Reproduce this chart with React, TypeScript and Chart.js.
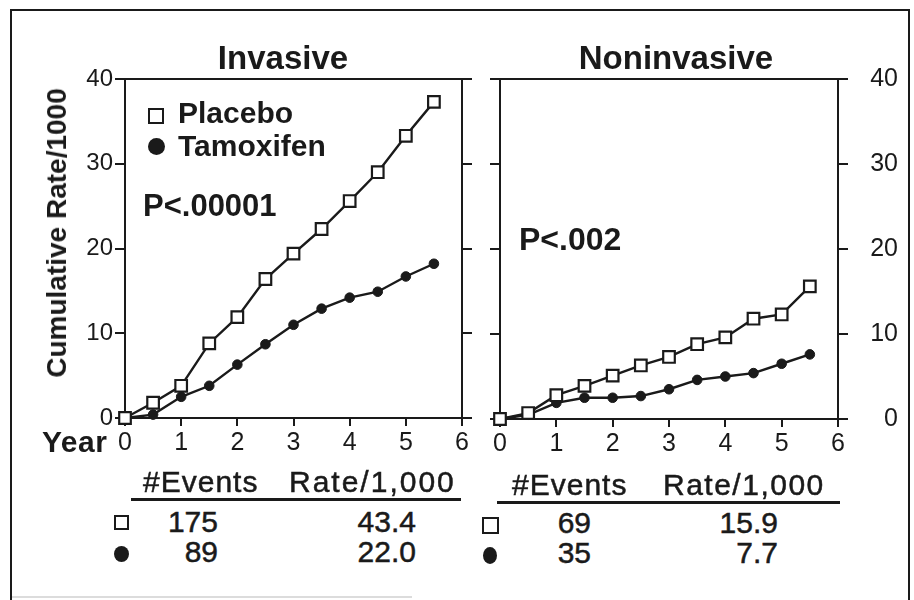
import React, { useEffect, useRef } from "react";
import { Chart, registerables } from "chart.js";

Chart.register(...registerables);

// ---------- data ----------
const years = [0, 0.5, 1, 1.5, 2, 2.5, 3, 3.5, 4, 4.5, 5, 5.5];
const invasivePlacebo = [0, 1.8, 3.8, 8.8, 11.9, 16.4, 19.4, 22.3, 25.6, 29.0, 33.3, 37.3];
const invasiveTamoxifen = [0, 0.4, 2.5, 3.8, 6.3, 8.7, 11.0, 12.9, 14.2, 14.9, 16.7, 18.2];
const noninvasivePlacebo = [0, 0.7, 2.8, 3.9, 5.1, 6.3, 7.3, 8.8, 9.6, 11.8, 12.3, 15.6];
const noninvasiveTamoxifen = [0, 0.5, 1.9, 2.5, 2.5, 2.7, 3.5, 4.6, 5.0, 5.4, 6.5, 7.6];
const xTickValues = [0, 1, 2, 3, 4, 5, 6];
const yTickValues = [0, 10, 20, 30, 40];

const panelTitles = ["Invasive", "Noninvasive"];
const seriesNames = ["Placebo", "Tamoxifen"];
const pValues = ["P<.00001", "P<.002"];
const yAxisTitle = "Cumulative Rate/1000";
const xAxisTitle = "Year";
const tableHeaders = ["#Events", "Rate/1,000"];
const invasiveEvents = ["175", "89"];
const invasiveRates = ["43.4", "22.0"];
const noninvasiveEvents = ["69", "35"];
const noninvasiveRates = ["15.9", "7.7"];

// ---------- styles ----------
const INK = "#1a1a1a";
const FONT = "'Liberation Sans', Arial, Helvetica, sans-serif";

type Side = "left" | "right";

function makeConfig(placebo: number[], tamoxifen: number[], side: Side, geo: any): any {
  const axisBorder = { display: true, color: INK, width: 2 };
  const tickGrid = (len: number) => ({
    display: true,
    drawOnChartArea: false,
    drawTicks: true,
    tickLength: len,
    color: INK,
    lineWidth: 2,
  });
  const forceY = (s: any) => {
    s.ticks = yTickValues.map((v) => ({ value: v }));
  };
  const forceX = (s: any) => {
    s.ticks = xTickValues.map((v) => ({ value: v }));
  };
  return {
    type: "line",
    data: {
      datasets: [
        {
          label: seriesNames[0],
          data: years.map((x, i) => ({ x, y: placebo[i] })),
          borderColor: INK,
          borderWidth: 2.4,
          pointStyle: "rect",
          pointRadius: 8.2,
          pointBackgroundColor: "#ffffff",
          pointBorderColor: INK,
          pointBorderWidth: 2.2,
          tension: 0,
          fill: false,
          clip: false,
        },
        {
          label: seriesNames[1],
          data: years.map((x, i) => ({ x, y: tamoxifen[i] })),
          borderColor: INK,
          borderWidth: 2.4,
          pointStyle: "circle",
          pointRadius: 4.8,
          pointBackgroundColor: INK,
          pointBorderColor: INK,
          pointBorderWidth: 1,
          tension: 0,
          fill: false,
          clip: false,
        },
      ],
    },
    options: {
      responsive: false,
      animation: false,
      devicePixelRatio: 1,
      events: [],
      layout: { padding: { top: geo.top, left: 0, right: 0, bottom: 0 } },
      plugins: {
        legend: { display: false },
        tooltip: { enabled: false },
        title: { display: false },
      },
      scales: {
        x: {
          type: "linear",
          position: "bottom",
          min: 0,
          max: 6,
          afterBuildTicks: forceX,
          ticks: {
            font: { family: FONT, size: 25 },
            color: INK,
            padding: 2,
            maxRotation: 0,
            autoSkip: false,
          },
          grid: tickGrid(8),
          border: axisBorder,
          afterFit: (s: any) => {
            s.height = geo.xh;
          },
        },
        xTop: {
          type: "linear",
          position: "top",
          min: 0,
          max: 6,
          ticks: { display: false },
          grid: { display: false, drawTicks: false },
          border: axisBorder,
          afterFit: (s: any) => {
            s.height = 0;
          },
        },
        y: {
          type: "linear",
          position: "left",
          min: 0,
          max: 40,
          afterBuildTicks: forceY,
          ticks: {
            font: { family: FONT, size: 24 },
            color: INK,
            padding: 2,
            callback: (v: any) => (side === "left" ? String(v) : ""),
          },
          grid: tickGrid(10),
          border: axisBorder,
          afterFit: (s: any) => {
            s.width = geo.yw;
          },
        },
        y2: {
          type: "linear",
          position: "right",
          min: 0,
          max: 40,
          afterBuildTicks: forceY,
          ticks: {
            font: { family: FONT, size: 25 },
            color: INK,
            padding: 3,
            crossAlign: "far",
            callback: (v: any) => (side === "right" ? String(v) : ""),
          },
          grid: tickGrid(10),
          border: axisBorder,
          afterFit: (s: any) => {
            s.width = geo.y2w;
          },
        },
      },
    },
  };
}

function Panel(props: { placebo: number[]; tamoxifen: number[]; side: Side; geo: any }) {
  const ref = useRef<HTMLCanvasElement | null>(null);
  const { geo } = props;
  useEffect(() => {
    if (!ref.current) return;
    const chart = new Chart(ref.current, makeConfig(props.placebo, props.tamoxifen, props.side, geo));
    return () => chart.destroy();
  }, []);
  return (
    <canvas
      ref={ref}
      width={geo.w}
      height={geo.h}
      style={{ position: "absolute", left: geo.left, top: geo.topPage, width: geo.w, height: geo.h }}
    />
  );
}

function Txt(props: {
  x: number;
  base: number;
  size: number;
  bold?: boolean;
  align?: "left" | "center" | "right";
  spacing?: number;
  children: any;
}) {
  const { x, base, size, bold, align = "left", spacing = 0 } = props;
  const tx = align === "center" ? "translateX(-50%)" : align === "right" ? "translateX(-100%)" : undefined;
  return (
    <div
      style={{
        position: "absolute",
        left: x,
        top: base - 0.8465 * size,
        fontFamily: FONT,
        fontSize: size,
        lineHeight: `${size}px`,
        fontWeight: bold ? 700 : 400,
        whiteSpace: "nowrap",
        color: INK,
        transform: tx,
        letterSpacing: spacing,
        WebkitTextStroke: bold ? undefined : `0.5px ${INK}`,
      }}
    >
      {props.children}
    </div>
  );
}

function Square(p: { x: number; y: number; s: number }) {
  return (
    <div
      style={{
        position: "absolute",
        left: p.x,
        top: p.y,
        width: p.s - 4,
        height: p.s - 4,
        border: `2px solid ${INK}`,
        background: "#fff",
      }}
    />
  );
}

function Dot(p: { x: number; y: number; w: number; h: number }) {
  return (
    <div
      style={{
        position: "absolute",
        left: p.x,
        top: p.y,
        width: p.w,
        height: p.h,
        borderRadius: "50%",
        background: INK,
      }}
    />
  );
}

function Rule(p: { x1: number; x2: number; y: number; t: number; color?: string }) {
  return (
    <div
      style={{
        position: "absolute",
        left: p.x1,
        top: p.y,
        width: p.x2 - p.x1,
        height: p.t,
        background: p.color || INK,
      }}
    />
  );
}

const leftGeo = { left: 60, topPage: 60, w: 430, h: 410, top: 19, yw: 65, y2w: 28, xh: 52 };
const rightGeo = { left: 478, topPage: 60, w: 420, h: 410, top: 19, yw: 22, y2w: 60, xh: 51 };

export default function App() {
  return (
    <div
      style={{
        position: "absolute",
        left: 0,
        top: 0,
        width: 914,
        height: 600,
        overflow: "hidden",
        background: "#ffffff",
      }}
    >
      {/* outer frame */}
      <div
        style={{
          position: "absolute",
          left: 10,
          top: 9,
          width: 896,
          height: 700,
          borderLeft: `2px solid ${INK}`,
          borderTop: `2px solid ${INK}`,
          borderRight: `2px solid ${INK}`,
        }}
      />
      <Rule x1={12} x2={412} y={596} t={2} color="#dcdcdc" />

      <Panel placebo={invasivePlacebo} tamoxifen={invasiveTamoxifen} side="left" geo={leftGeo} />
      <Panel placebo={noninvasivePlacebo} tamoxifen={noninvasiveTamoxifen} side="right" geo={rightGeo} />

      {/* panel titles */}
      <Txt x={283} base={69} size={33} bold align="center">{panelTitles[0]}</Txt>
      <Txt x={676} base={69} size={33} bold align="center">{panelTitles[1]}</Txt>

      {/* y axis title */}
      <div
        style={{
          position: "absolute",
          left: 57,
          top: 233,
          transform: "translate(-50%, -50%) rotate(-90deg)",
          fontFamily: FONT,
          fontSize: 28,
          lineHeight: "28px",
          fontWeight: 700,
          whiteSpace: "nowrap",
          color: INK,
        }}
      >
        {yAxisTitle}
      </div>

      {/* x axis title */}
      <Txt x={42} base={452} size={30} bold spacing={0.5}>{xAxisTitle}</Txt>

      {/* in-plot legend */}
      <Square x={148} y={108} s={16} />
      <Txt x={178} base={123} size={30} bold>{seriesNames[0]}</Txt>
      <Dot x={148} y={138} w={17} h={17} />
      <Txt x={178} base={156} size={30} bold>{seriesNames[1]}</Txt>

      {/* p values */}
      <Txt x={143} base={216} size={31} bold>{pValues[0]}</Txt>
      <Txt x={519} base={250} size={32} bold>{pValues[1]}</Txt>

      {/* left table */}
      <Txt x={143} base={492} size={30} spacing={1}>{tableHeaders[0]}</Txt>
      <Txt x={289} base={492} size={30} spacing={2}>{tableHeaders[1]}</Txt>
      <Rule x1={131} x2={461} y={498} t={3} />
      <Square x={114} y={515} s={15} />
      <Txt x={218} base={532} size={30} align="right">{invasiveEvents[0]}</Txt>
      <Txt x={416} base={532} size={30} align="right">{invasiveRates[0]}</Txt>
      <Dot x={114} y={546} w={15} h={16} />
      <Txt x={218} base={562} size={30} align="right">{invasiveEvents[1]}</Txt>
      <Txt x={416} base={562} size={30} align="right">{invasiveRates[1]}</Txt>

      {/* right table */}
      <Txt x={512} base={495} size={30} spacing={1}>{tableHeaders[0]}</Txt>
      <Txt x={663} base={495} size={30} spacing={1.5}>{tableHeaders[1]}</Txt>
      <Rule x1={497} x2={840} y={501} t={3} />
      <Square x={482} y={517} s={17} />
      <Txt x={591} base={533} size={30} align="right">{noninvasiveEvents[0]}</Txt>
      <Txt x={778} base={533} size={30} align="right">{noninvasiveRates[0]}</Txt>
      <Dot x={483} y={547} w={14} h={17} />
      <Txt x={591} base={563} size={30} align="right">{noninvasiveEvents[1]}</Txt>
      <Txt x={778} base={563} size={30} align="right">{noninvasiveRates[1]}</Txt>
    </div>
  );
}
